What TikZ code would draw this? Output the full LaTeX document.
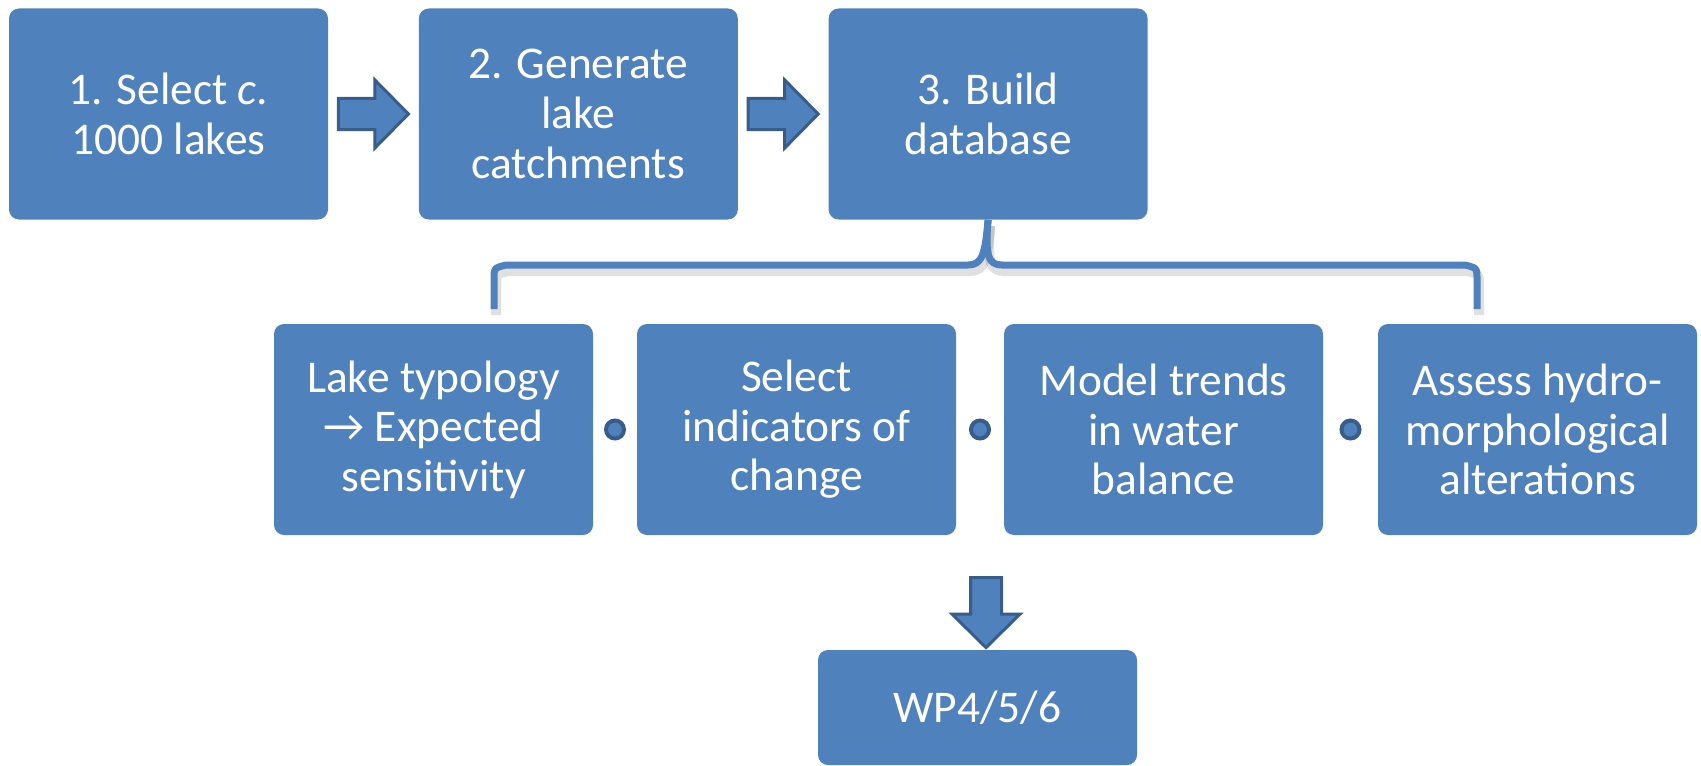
\documentclass[tikz,border=0pt]{standalone}
\usepackage{fontspec}
\setmainfont{Carlito}
\usetikzlibrary{calc,positioning}
\definecolor{azulcaja}{HTML}{4F81BD}
\definecolor{azulborde}{HTML}{385D8A}

\begin{document}
\begin{tikzpicture}[x=0.5pt, y=-0.5pt,
    box/.style={rectangle, fill=azulcaja, rounded corners=5pt,
                minimum width=159.5pt, minimum height=105.5pt, inner sep=0pt,
                text=white, align=center, font=\fontsize{22.7}{24.8}\selectfont},
    sepdot/.style={circle, draw=azulborde, fill=azulcaja, line width=2pt,
                   minimum size=9pt, inner sep=0pt},
    brace/.style={draw=azulcaja, line width=3.5pt, line join=round},
    braceshadow/.style={draw=black, opacity=0.12, line width=5pt, line join=round},
    blockarrow/.pic={
      \draw[draw=azulborde, fill=azulcaja, line width=1.5pt]
        (-35,-15.5) -- (1.5,-15.5) -- (1.5,-34) -- (35,0) -- (1.5,34)
        -- (1.5,15.5) -- (-35,15.5) -- cycle;}
  ]
    \useasboundingbox (0,0) rectangle (1701,765);

    \node[box] (paso1) at (168.5,114) {1. Select \textit{c}.\\1000 lakes};
    \node[box, right=45pt of paso1] (paso2) {2. Generate\\lake\\catchments};
    \node[box, right=45pt of paso2] (paso3) {3. Build\\database};

    \node[box] (tipologia) at (433.5,429.5) {Lake typology\\→ Expected\\sensitivity};
    \node[box] (indicadores) at (796.5,429.5) {Select\\indicators of\\change};
    \node[box] (balance) at (1163.5,429.5) {Model trends\\in water\\balance};
    \node[box] (hidromorf) at (1537.5,429.5) {Assess hydro-\\morphological\\alterations};

    \node[box, minimum height=57.5pt] (wp) at (977.5,707.5) {WP4/5/6};

    \pic at ($(paso1.east)!0.5!(paso2.west)$) {blockarrow};
    \pic at ($(paso2.east)!0.5!(paso3.west)$) {blockarrow};
    \pic[rotate=-90] at ($(wp.north)+(8.5,-37)$) {blockarrow};

    \node[sepdot] (punto1) at ($(tipologia.east)!0.5!(indicadores.west)$) {};
    \node[sepdot] (punto2) at ($(indicadores.east)!0.5!(balance.west)$) {};
    \node[sepdot] (punto3) at ($(balance.east)!0.5!(hidromorf.west)$) {};

    \coordinate (llavetop) at (paso3.south);
    \coordinate (llaveizq) at (494,309);
    \coordinate (llaveder) at (1477,309);

    \begin{scope}[transform canvas={shift={(1pt,-3pt)}}]
      \draw[braceshadow] (llaveizq) -- ++(0,-29) .. controls +(0,-12) .. ++(12,-15)
        -- (968,265) .. controls (982,265) and (985,255) .. (llavetop);
      \draw[braceshadow] (llaveder) -- ++(0,-29) .. controls +(0,-12) .. ++(-12,-15)
        -- (1002,265) .. controls (988,265) and (985,255) .. (llavetop);
    \end{scope}
    \draw[brace] (llaveizq) -- ++(0,-29) .. controls +(0,-12) .. ++(12,-15)
      -- (968,265) .. controls (982,265) and (985,255) .. (llavetop);
    \draw[brace] (llaveder) -- ++(0,-29) .. controls +(0,-12) .. ++(-12,-15)
      -- (1002,265) .. controls (988,265) and (985,255) .. (llavetop);
  \end{tikzpicture}
\end{document}
